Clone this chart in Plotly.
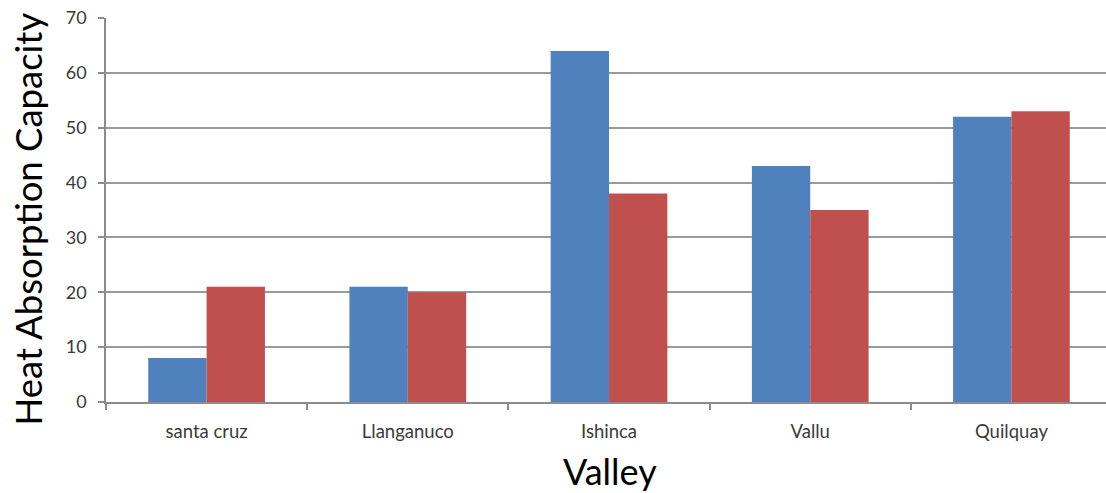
import plotly.graph_objects as go

valleys = ["santa cruz", "Llanganuco", "Ishinca", "Vallu", "Quilquay"]
series_blue = [8, 21, 64, 43, 52]
series_red = [21, 20, 38, 35, 53]
y_ticks = [0, 10, 20, 30, 40, 50, 60, 70]

FONT = "Lato, Calibri, 'Open Sans', sans-serif"

fig = go.Figure()
fig.add_trace(go.Bar(x=valleys, y=series_blue, marker=dict(color="#4F81BD", line=dict(width=0)), name="Series 1"))
fig.add_trace(go.Bar(x=valleys, y=series_red, marker=dict(color="#C0504D", line=dict(width=0)), name="Series 2"))

fig.update_layout(
    width=1106, height=493,
    margin=dict(l=106, r=0, t=18, b=91),
    paper_bgcolor="white", plot_bgcolor="white",
    barmode="group", bargap=0.42, bargroupgap=0,
    showlegend=False,
    font=dict(family=FONT, color="#404040", size=18),
    xaxis=dict(
        type="category", range=[-0.5, 4.47],
        tickson="boundaries", ticks="outside", ticklen=6, tickcolor="#8c8c8c", tickwidth=1.5,
        showline=True, linecolor="#8c8c8c", linewidth=1.5,
        showgrid=False, tickfont=dict(size=18.5, color="#3a3a3a"),
        ticklabelstandoff=12,
    ),
    yaxis=dict(
        range=[0, 70], tickvals=y_ticks, ticktext=[str(v) for v in y_ticks],
        ticks="outside", ticklen=6, tickcolor="#8c8c8c", tickwidth=1.5,
        showline=True, linecolor="#8c8c8c", linewidth=1.5,
        showgrid=True, gridcolor="#9a9a9a", gridwidth=1.5,
        zeroline=False, tickfont=dict(size=18, color="#3a3a3a"),
        ticklabelstandoff=8,
    ),
    annotations=[
        dict(text="Heat Absorption Capacity", xref="paper", yref="paper",
             x=-0.078, y=0.475, xanchor="center", yanchor="middle", textangle=-90,
             showarrow=False, font=dict(size=36.5, color="#000000", family=FONT)),
        dict(text="Valley", xref="paper", yref="paper",
             x=0.504, y=-0.18, xanchor="center", yanchor="middle",
             showarrow=False, font=dict(size=36, color="#000000", family=FONT)),
    ],
)

fig.write_html("out.html")
